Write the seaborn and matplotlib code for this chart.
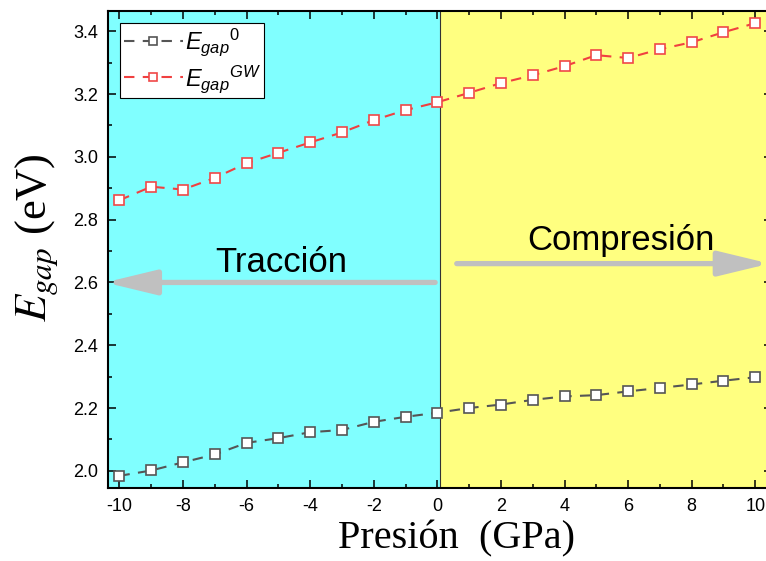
import matplotlib
matplotlib.use("Agg")
import matplotlib.pyplot as plt
from matplotlib.font_manager import FontProperties
from matplotlib.ticker import MultipleLocator
import seaborn as sns

# Pressure grid (GPa) and band gaps (eV)
presion = [-10, -9, -8, -7, -6, -5, -4, -3, -2, -1, 0,
           1, 2, 3, 4, 5, 6, 7, 8, 9, 10]
egap_0 = [1.984, 2.001, 2.027, 2.052, 2.089, 2.104, 2.123, 2.130, 2.156, 2.172, 2.185,
          2.200, 2.211, 2.226, 2.237, 2.241, 2.253, 2.264, 2.275, 2.287, 2.298]
egap_gw = [2.862, 2.905, 2.896, 2.933, 2.980, 3.013, 3.046, 3.078, 3.117, 3.149, 3.174,
           3.204, 3.235, 3.260, 3.289, 3.324, 3.315, 3.343, 3.365, 3.397, 3.426]

label_0 = r"${E_{gap}}^{\mathit{0}}$"
label_gw = r"${E_{gap}}^{GW}$"
xticks = [-10, -8, -6, -4, -2, 0, 2, 4, 6, 8, 10]
yticks = [2.0, 2.2, 2.4, 2.6, 2.8, 3.0, 3.2, 3.4]

sns.set_theme(style="ticks")
plt.rcParams["font.family"] = ["Liberation Sans", "DejaVu Sans"]
plt.rcParams["text.color"] = "black"
plt.rcParams["axes.labelcolor"] = "black"
plt.rcParams["xtick.color"] = "black"
plt.rcParams["ytick.color"] = "black"
plt.rcParams["mathtext.fontset"] = "custom"
plt.rcParams["mathtext.it"] = "Liberation Sans:italic"
plt.rcParams["mathtext.rm"] = "Liberation Sans"
plt.rcParams["mathtext.sf"] = "Liberation Sans"
plt.rcParams["mathtext.bf"] = "Liberation Sans:bold"

fig = plt.figure(figsize=(7.66, 5.61), dpi=100)
ax = fig.add_axes([0.141, 0.130, 0.867, 0.850])

xmin, xmax = -10.36, 10.53
ymin, ymax = 1.945, 3.464
split = 0.09

# Tension / compression regions
ax.axvspan(xmin, split, color="#80ffff", zorder=0, lw=0)
ax.axvspan(split, xmax, color="#ffff80", zorder=0, lw=0)
ax.axvline(split, color="#333333", lw=0.8, zorder=0.5)

dash = (0, (5, 4))
sns.lineplot(x=presion, y=egap_0, ax=ax, color="#555555", lw=1.5,
             linestyle=dash, marker="s", markersize=7.5,
             markerfacecolor="white", markeredgecolor="#555555",
             markeredgewidth=1.2, label=label_0, zorder=3)
sns.lineplot(x=presion, y=egap_gw, ax=ax, color="#f04040", lw=1.5,
             linestyle=dash, marker="s", markersize=7.5,
             markerfacecolor="white", markeredgecolor="#f04848",
             markeredgewidth=1.2, label=label_gw, zorder=3)

ax.set_xlim(xmin, xmax)
ax.set_ylim(ymin, ymax)
ax.set_xticks(xticks)
ax.set_yticks(yticks)
ax.set_xticklabels([f"{t:d}" for t in xticks])
ax.set_yticklabels([f"{t:.1f}" for t in yticks])
ax.xaxis.set_minor_locator(MultipleLocator(1))
ax.yaxis.set_minor_locator(MultipleLocator(0.1))
ax.tick_params(which="both", direction="in", top=True, right=True,
               color="black", width=1.1)
ax.tick_params(which="major", length=6, labelsize=13, pad=7)
ax.tick_params(which="minor", length=3)
for sp in ax.spines.values():
    sp.set_linewidth(1.5)
    sp.set_color("black")
    sp.set_visible(True)

# Direction arrows
arrow_kw = dict(arrowstyle="-|>,head_length=31,head_width=7.5",
                mutation_scale=1, color="#c0c0c0", lw=3.8,
                shrinkA=0, shrinkB=0)
ax.annotate("", xy=(-10.45, 2.60), xytext=(-0.07, 2.60),
            arrowprops=arrow_kw, annotation_clip=False, zorder=2)
ax.annotate("", xy=(10.45, 2.66), xytext=(0.61, 2.66),
            arrowprops=arrow_kw, annotation_clip=False, zorder=2)
ax.text(-4.91, 2.634, "Tracción", ha="center", va="baseline", fontsize=25)
ax.text(5.78, 2.703, "Compresión", ha="center", va="baseline", fontsize=25)

ax.set_xlabel("Presión  (GPa)", fontsize=29, family="Liberation Serif")
ax.set_ylabel(r"$E_{gap}$ (eV)", fontsize=32, family="Liberation Serif",
              math_fontfamily="stix")
ax.xaxis.set_label_coords(0.524, -0.068)
ax.yaxis.set_label_coords(-0.072, 0.526)

leg = ax.legend(loc="upper left", bbox_to_anchor=(0.018, 0.975),
                borderaxespad=0, frameon=True, fancybox=False,
                edgecolor="black", framealpha=1, handlelength=2.5,
                handletextpad=0.1, borderpad=0.15, labelspacing=0.2,
                markerscale=0.8,
                prop=FontProperties(family="Liberation Sans", size=17,
                                    math_fontfamily="custom"))
leg.get_frame().set_linewidth(0.8)

fig.savefig("out.png", dpi=100)
